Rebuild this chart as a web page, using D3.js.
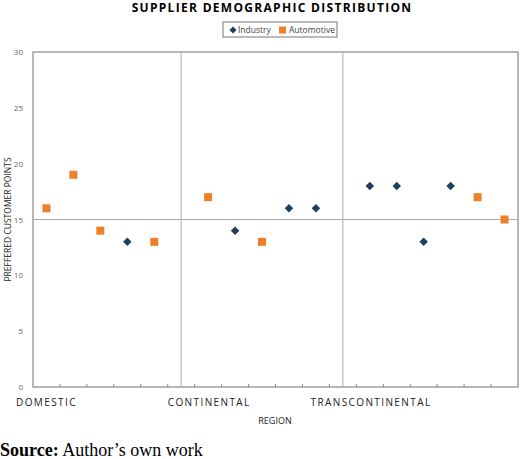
<!DOCTYPE html>
<html><head><meta charset="UTF-8">
<script src="https://d3js.org/d3.v7.min.js"></script>
<style>body{margin:0;background:#fff}svg{font-family:"Open Sans",sans-serif}</style>
</head><body><div id="chart"></div>
<script>
var slots = d3.range(18);
var industry = [[3,13],[7,14],[9,16],[10,16],[12,18],[13,18],[14,13],[15,18]];
var automotive = [[0,16],[1,19],[2,14],[4,13],[6,17],[8,13],[16,17],[17,15]];
var regions = ["DOMESTIC","CONTINENTAL","TRANSCONTINENTAL"];
var regionX = [-0.63, 5, 10.3];   // label start slot
var dividers = [5.5, 11.5];
var yTicks = [0,5,10,15,20,25,30];

var W = 520, H = 459;
var margin = {left:33, right:2, top:52, bottom:72};
var svg = d3.select("#chart").append("svg").attr("width",W).attr("height",H);
var x = d3.scaleLinear().domain([0,18]).range([margin.left, W-margin.right]);
var y = d3.scaleLinear().domain([0,30]).range([H-margin.bottom, margin.top]);

svg.append("text").attr("x",272).attr("y",12).attr("text-anchor","middle")
  .attr("font-size",12).attr("font-weight","bold").attr("letter-spacing",1.3).text("SUPPLIER DEMOGRAPHIC DISTRIBUTION");

// legend
var lg = svg.append("g");
lg.append("rect").attr("x",223).attr("y",22).attr("width",114).attr("height",15).attr("fill","#fff").attr("stroke","#777");
lg.append("rect").attr("x",-2.5).attr("y",-2.5).attr("width",5).attr("height",5).attr("transform","translate(233,30) rotate(45)").attr("fill","#1f3f5f");
lg.append("text").attr("x",238).attr("y",33).attr("font-size",8.5).attr("fill","#444").text("Industry");
lg.append("rect").attr("x",279).attr("y",26.5).attr("width",7).attr("height",7).attr("fill","#f07f2a");
lg.append("text").attr("x",289).attr("y",33).attr("font-size",8.5).attr("fill","#444").text("Automotive");

// frame
svg.append("rect").attr("x",x(0)).attr("y",y(30)).attr("width",x(18)-x(0)).attr("height",y(0)-y(30))
  .attr("fill","none").attr("stroke","#888").attr("stroke-width",1.2);
svg.selectAll(".div").data(dividers).enter().append("line")
  .attr("x1",d=>x(d)).attr("x2",d=>x(d)).attr("y1",y(30)).attr("y2",y(0)).attr("stroke","#aaa");
svg.append("line").attr("x1",x(0)).attr("x2",x(18)).attr("y1",y(15)).attr("y2",y(15)).attr("stroke","#aaa");

// y axis
var ya = svg.append("g").attr("transform","translate("+x(0)+",0)")
  .call(d3.axisLeft(y).tickValues(yTicks).tickSize(0).tickPadding(10));
ya.select(".domain").remove();
ya.selectAll("text").attr("font-size",8).attr("fill","#666").attr("font-family","Open Sans");

// x ticks
svg.selectAll(".xt").data(slots.slice(1)).enter().append("line")
  .attr("x1",d=>x(d)).attr("x2",d=>x(d)).attr("y1",y(0)).attr("y2",y(0)-3).attr("stroke","#888");

svg.selectAll(".rl").data(regions).enter().append("text")
  .attr("x",(d,i)=>x(regionX[i])).attr("y",y(0)+19).attr("font-size",10).attr("letter-spacing",1.4).attr("fill","#222").text(d=>d);
svg.append("text").attr("x",275).attr("y",y(0)+37).attr("text-anchor","middle").attr("font-size",9).attr("fill","#222").text("REGION");
svg.append("text").attr("transform","translate(11,"+y(15)+") rotate(-90)").attr("text-anchor","middle")
  .attr("font-size",8.5).attr("fill","#222").text("PREFFERED CUSTOMER POINTS");

svg.selectAll(".ind").data(industry).enter().append("rect")
  .attr("x",-3).attr("y",-3).attr("width",6).attr("height",6)
  .attr("transform",d=>"translate("+x(d[0]+0.5)+","+y(d[1])+") rotate(45)").attr("fill","#1f3f5f");
svg.selectAll(".aut").data(automotive).enter().append("rect")
  .attr("x",d=>x(d[0]+0.5)-4).attr("y",d=>y(d[1])-4).attr("width",8).attr("height",8).attr("fill","#f07f2a");

svg.append("text").attr("x",0).attr("y",456).attr("font-family","Liberation Serif").attr("font-size",18)
  .html('<tspan font-weight="bold">Source:</tspan> Author’s own work');
</script></body></html>
